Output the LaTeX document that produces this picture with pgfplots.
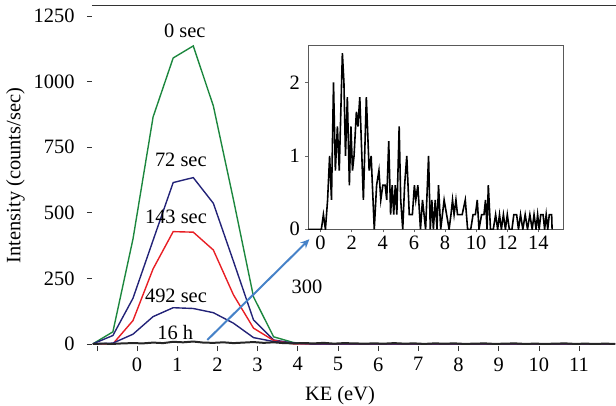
\documentclass[border=0pt]{standalone}
\usepackage{fontspec}
\setmainfont{Liberation Serif}
\usepackage{pgfplots}
\pgfplotsset{compat=1.18}
\usetikzlibrary{arrows.meta}

\definecolor{cgreen}{RGB}{28,135,62}
\definecolor{cnavy}{RGB}{35,35,120}
\definecolor{cred}{RGB}{232,30,36}
\definecolor{carrow}{RGB}{70,130,200}
\newcommand\f{\fontsize{20.5}{24}\selectfont}

\begin{document}
\begin{tikzpicture}
\begin{axis}[
  name=main, at={(0,0)}, anchor=south west,
  scale only axis, width=524bp, height=341bp,
  xmin=-1.12, xmax=11.92, ymin=-8, ymax=1292,
  clip=false,
  axis line style={draw=none},
  tick align=outside, tick pos=left,
  major tick length=5bp,
  every tick/.style={black!80, line width=0.6pt},
  xtick={-1,0,...,11}, xticklabels={,0,1,2,3,4,5,6,7,8,9,10,11},
  ytick={0,250,500,750,1000,1250},
  tick label style={font=\f},
  yticklabel style={xshift=-9bp, /pgf/number format/1000 sep={}},
  xticklabel style={yshift=-3bp},
  /pgf/number format/assume math mode=true,
  label style={font=\f},
  xlabel={KE (eV)}, xlabel style={xshift=-14bp, yshift=-8bp},
  ylabel={Intensity (counts/sec)}, ylabel style={yshift=2bp},
]
\draw[black!80, line width=0.8pt] (rel axis cs:0,1) -- (rel axis cs:1,1);
% 0 sec
\addplot[cgreen, line width=1.4pt] coordinates {(-1.1,0)(-0.6,46)(-0.1,400)(0.4,865)(0.9,1090)(1.4,1136)(1.9,907)(2.4,550)(2.9,179)(3.4,27)(3.9,5)(4.4,0)(5.4,0)(6.4,0)(7.4,0)(8.4,0)(9.4,0)(10.4,0)(11.4,0)(11.9,0)};
% 72 sec
\addplot[cnavy, line width=1.4pt] coordinates {(-1.1,0)(-0.6,32)(-0.1,174)(0.4,395)(0.9,615)(1.4,634)(1.9,536)(2.4,315)(2.9,91)(3.4,15)(3.9,3)(4.4,0)(5.4,0)(6.4,0)(7.4,0)(8.4,0)(9.4,0)(10.4,0)(11.4,0)(11.9,0)};
% 143 sec
\addplot[cred, line width=1.4pt] coordinates {(-1.1,0)(-0.6,0)(-0.1,89)(0.4,286)(0.9,428)(1.4,426)(1.9,358)(2.4,187)(2.9,60)(3.4,13)(3.9,0)(4.4,0)(5.4,0)(6.4,0)(7.4,0)(8.4,0)(9.4,0)(10.4,0)(11.4,0)(11.9,0)};
% 492 sec
\addplot[cnavy, line width=1.4pt] coordinates {(-1.1,0)(-0.6,3)(-0.1,37)(0.4,104)(0.9,138)(1.4,135)(1.9,119)(2.4,79)(2.9,24)(3.4,9)(3.9,2)(4.4,0)(5.4,0)(6.4,0)(7.4,0)(8.4,0)(9.4,0)(10.4,0)(11.4,0)(11.9,0)};
% 16 h
\addplot[black!85, line width=2pt] coordinates {(-1.1,0)(-0.85,1)(-0.6,0)(-0.35,2)(-0.1,3)(0.15,2)(0.4,5)(0.65,3)(0.9,8)(1.15,6)(1.4,9)(1.65,5)(1.9,4)(2.15,6)(2.4,3)(2.65,5)(2.9,7)(3.15,4)(3.4,6)(3.65,3)(3.9,2)(4.15,3)(4.4,2)(4.65,4)(4.9,1)(5.15,3)(5.4,2)(5.65,1)(5.9,2)(6.15,1)(6.4,3)(6.65,1)(6.9,2)(7.15,0)(7.4,2)(7.65,1)(7.9,2)(8.15,0)(8.4,1)(8.65,2)(8.9,0)(9.15,1)(9.4,2)(9.65,0)(9.9,1)(10.15,0)(10.4,1)(10.65,2)(10.9,0)(11.15,1)(11.4,0)(11.65,1)(11.9,0)};
\node[font=\f] at (axis cs:1.19,1193) {0 sec};
\node[font=\f] at (axis cs:1.09,701) {72 sec};
\node[font=\f] at (axis cs:0.97,484) {143 sec};
\node[font=\f] at (axis cs:0.97,183) {492 sec};
\node[font=\f] at (axis cs:0.95,42) {16 h};
\node[font=\f] at (axis cs:4.23,217) {300};
\draw[carrow, line width=2pt, -{Stealth[length=9bp,width=8bp]}] (axis cs:1.75,15) -- (axis cs:4.29,399);
\end{axis}

\begin{axis}[
  at={(216.3bp,116.7bp)}, anchor=south west,
  scale only axis, width=255bp, height=184.3bp,
  xmin=-0.79, xmax=15.6, ymin=0, ymax=2.51,
  xtick={0,2,...,14}, ytick={0,1,2},
  tick align=outside, tick pos=left,
  major tick length=3bp,
  every tick/.style={black!60, line width=0.6pt},
  axis line style={black!65, line width=0.9pt},
  tick label style={font=\f},
  yticklabel style={xshift=-2bp},
  /pgf/number format/assume math mode=true,
]
\addplot[black, line width=1.6pt] coordinates {(-0.79,0)(0.05,0)(0.18,0.2)(0.31,0)(0.45,0.4)(0.58,1.0)(0.7,0.4)(0.83,2.0)(0.95,0.8)(1.08,1.4)(1.2,0.8)(1.4,2.4)(1.5,2.0)(1.6,1.0)(1.72,1.8)(1.85,0.6)(1.95,1.4)(2.05,0.8)(2.15,1.0)(2.3,1.6)(2.4,1.4)(2.52,1.8)(2.75,0.4)(2.94,1.8)(3.12,0.8)(3.25,1.0)(3.45,0)(3.6,0.6)(3.75,0.8)(3.87,0.4)(4.0,0.6)(4.15,0.6)(4.25,0.4)(4.38,1.2)(4.5,0.2)(4.6,0.6)(4.7,0.2)(4.8,0.6)(4.9,0.2)(5.05,1.4)(5.15,0.4)(5.28,0)(5.4,0.6)(5.54,1.0)(5.7,0.2)(5.9,0.2)(6.03,0.6)(6.12,0.4)(6.25,0.6)(6.42,0)(6.55,0.4)(6.75,0)(6.94,1.0)(7.05,0)(7.15,0.4)(7.25,0)(7.37,0.4)(7.48,0)(7.58,0.6)(7.72,0)(7.94,0.4)(8.1,0.2)(8.26,0)(8.38,0.2)(8.48,0.4)(8.58,0.2)(8.7,0.4)(8.8,0.2)(9.1,0.2)(9.3,0.4)(9.45,0)(9.65,0)(9.8,0.2)(9.95,0.2)(10.07,0.4)(10.18,0)(10.35,0.2)(10.5,0.2)(10.6,0.4)(10.7,0)(10.78,0.6)(10.92,0)(11.1,0)(11.25,0.2)(11.38,0)(11.5,0.2)(11.62,0)(11.75,0.2)(11.88,0)(12.0,0.2)(12.13,0)(12.3,0)(12.42,0.2)(12.6,0.2)(12.72,0)(12.85,0.2)(13.0,0)(13.15,0.2)(13.3,0)(13.45,0.2)(13.6,0)(13.72,0.2)(13.85,0)(13.95,0.2)(14.05,0)(14.15,0.2)(14.3,0.2)(14.4,0)(14.5,0.2)(14.6,0)(14.7,0.2)(14.85,0.2)(14.88,0)};
\end{axis}
\pgfresetboundingbox
\path (-92bp,-60bp) rectangle (524bp,346bp);
\end{tikzpicture}
\end{document}
